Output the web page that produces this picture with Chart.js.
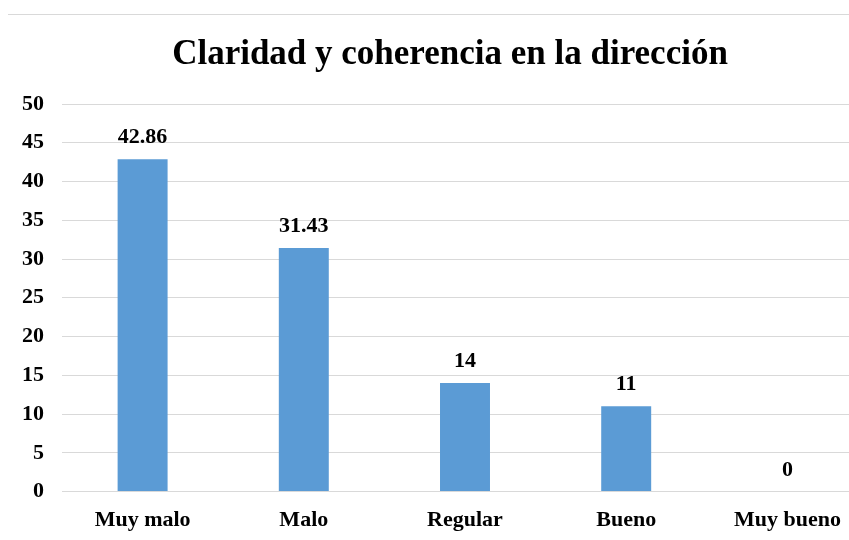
<!DOCTYPE html>
<html>
<head>
<meta charset="utf-8">
<script src="https://cdn.jsdelivr.net/npm/chart.js@4/dist/chart.umd.min.js"></script>
<style>
  html, body { margin: 0; padding: 0; background: #fff; overflow: hidden; width: 849px; height: 540px; }
  #topline { position: absolute; left: 8px; top: 14px; width: 841px; height: 0; border-top: 1px solid #d9d9d9; z-index: 2; }
  #wrap { position: absolute; left: 0; top: 0; width: 880px; height: 554px; }
</style>
</head>
<body>
<div id="topline"></div>
<div id="wrap"><canvas id="c" width="880" height="554"></canvas></div>
<script>
const categories = ["Muy malo", "Malo", "Regular", "Bueno", "Muy bueno"];
const values = [42.86, 31.43, 14, 11, 0];
const yTicks = [0, 5, 10, 15, 20, 25, 30, 35, 40, 45, 50];
const chartTitle = "Claridad y coherencia en la dirección";

const FONT = "'Liberation Serif', 'Times New Roman', serif";

const valueLabels = {
  id: 'valueLabels',
  afterDatasetsDraw(chart) {
    const ctx = chart.ctx;
    const meta = chart.getDatasetMeta(0);
    ctx.save();
    ctx.font = "bold 22px " + FONT;
    ctx.fillStyle = "#000";
    ctx.textAlign = "center";
    ctx.textBaseline = "alphabetic";
    meta.data.forEach((bar, i) => {
      ctx.fillText(String(values[i]), bar.x, bar.y - 16);
    });
    ctx.restore();
  }
};

const titleText = {
  id: 'titleText',
  afterDraw(chart) {
    const ctx = chart.ctx;
    ctx.save();
    ctx.font = "bold 35px " + FONT;
    ctx.fillStyle = "#000";
    ctx.textAlign = "center";
    ctx.textBaseline = "alphabetic";
    ctx.fillText(chartTitle, 450, 64);
    ctx.restore();
  }
};

new Chart(document.getElementById('c'), {
  type: 'bar',
  data: {
    labels: categories,
    datasets: [{
      data: values,
      backgroundColor: '#5B9BD5',
      borderWidth: 0,
      categoryPercentage: 1,
      barPercentage: 0.31
    }]
  },
  options: {
    responsive: false,
    animation: false,
    layout: { padding: { left: 4, right: 12, top: 104, bottom: 4 } },
    plugins: {
      legend: { display: false },
      tooltip: { enabled: false },
      title: { display: false }
    },
    scales: {
      x: {
        grid: { display: false, drawTicks: false },
        border: { display: false },
        ticks: {
          color: '#000',
          font: { family: FONT, size: 22, weight: 'bold' },
          padding: 16,
          maxRotation: 0
        }
      },
      y: {
        min: 0,
        max: 50,
        afterBuildTicks(axis) { axis.ticks = yTicks.map(v => ({ value: v })); },
        grid: { color: '#d9d9d9', lineWidth: 1, drawTicks: false },
        border: { display: false },
        ticks: {
          color: '#000',
          font: { family: FONT, size: 22, weight: 'bold' },
          padding: 18
        }
      }
    }
  },
  plugins: [valueLabels, titleText]
});
</script>
</body>
</html>
